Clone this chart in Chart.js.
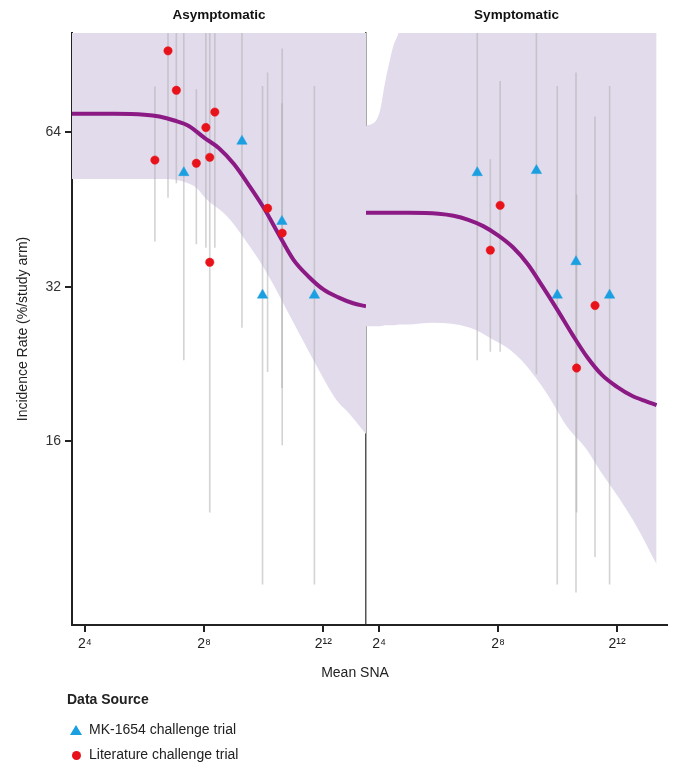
<!DOCTYPE html>
<html>
<head>
<meta charset="utf-8">
<script src="https://cdn.jsdelivr.net/npm/chart.js@4.4.1/dist/chart.umd.min.js"></script>
<style>
  body { margin: 0; background: #fff; font-family: 'Liberation Sans', Arial, sans-serif; color: #222; }
  #wrap { position: relative; width: 674px; height: 767px; }
  #chart { position: absolute; left: 0; top: 0; }
  .legend-title { position: absolute; left: 67px; top: 691px; font-size: 14px; font-weight: bold; line-height: 17px; }
  .legend-item { position: absolute; left: 89px; font-size: 14px; line-height: 17px; }
  .tri { position: absolute; width: 0; height: 0; border-left: 6px solid transparent; border-right: 6px solid transparent; border-bottom: 10px solid #1a9fe0; }
  .dot { position: absolute; width: 9px; height: 9px; border-radius: 50%; background: #e8121a; }
</style>
</head>
<body>
<div id="wrap">
  <canvas id="chart" width="674" height="767"></canvas>
  <div class="legend-title">Data Source</div>
  <div class="tri" style="left:70px; top:725px;"></div>
  <div class="legend-item" style="top:721px;">MK-1654 challenge trial</div>
  <div class="dot" style="left:71.5px; top:750.5px;"></div>
  <div class="legend-item" style="top:746px;">Literature challenge trial</div>
</div>
<script>
// x values are log2(mean SNA), y values are incidence rate (%/study arm)
const xTicks = [4, 8, 12];
const xTickLabels = ['2⁴', '2⁸', '2¹²'];
const yTicks = [16, 32, 64];

// Asymptomatic panel
const mkAsymX = [9.27, 7.32, 10.61, 9.96, 11.70];
const mkAsymY = [61.5, 53.4, 42.9, 30.8, 30.8];
const mkAsymLo = [26.6, 23.0, 20.3, 8.4, 8.4];
const mkAsymHi = [120, 120, 72.9, 78.8, 78.8];

const litAsymX = [6.79, 7.07, 8.36, 8.06, 6.35, 7.74, 8.19, 10.13, 10.62, 8.19];
const litAsymY = [92.3, 77.3, 70.1, 65.4, 56.5, 55.7, 57.2, 45.5, 40.7, 35.7];
const litAsymLo = [47.7, 50.9, 38.1, 38.1, 39.2, 38.7, 38.1, 21.8, 15.7, 11.6];
const litAsymHi = [120, 120, 120, 120, 78.6, 77.7, 83.8, 83.7, 93.3, 120];

const curveAsymX = [3.57, 5.0, 6.0, 6.5, 7.0, 7.5, 8.0, 8.5, 9.0, 9.5, 10.0, 10.5, 11.0, 11.5, 12.0, 12.5, 13.0, 13.43];
const curveAsymY = [69.6, 69.6, 69.3, 68.7, 67.5, 65.8, 62.5, 59.6, 55.5, 50.5, 45.6, 40.5, 36.1, 33.5, 31.6, 30.5, 29.7, 29.3];

const bandAsymX = [3.57, 6.43, 7.66, 8.10, 8.77, 9.44, 10.11, 11.0, 11.67, 12.45, 12.79, 13.43];
const bandAsymLo = [51.9, 51.9, 50.3, 47.3, 43.9, 39.0, 34.0, 27.2, 23.0, 19.2, 18.3, 16.5];
const bandAsymHi = [120, 120, 120, 120, 120, 120, 120, 120, 120, 120, 120, 120];

// Symptomatic panel
const mkSympX = [7.30, 9.29, 10.62, 9.99, 11.75];
const mkSympY = [53.4, 53.9, 35.8, 30.8, 30.8];
const mkSympLo = [23.0, 21.6, 8.1, 8.4, 8.4];
const mkSympHi = [120, 120, 83.7, 78.8, 78.8];

const litSympX = [8.07, 7.74, 11.26, 10.64];
const litSympY = [46.1, 37.7, 29.4, 22.2];
const litSympLo = [23.9, 23.9, 9.5, 11.6];
const litSympHi = [80.6, 56.7, 68.7, 48.4];

const curveSympX = [3.56, 5.0, 6.0, 6.5, 7.0, 7.5, 8.0, 8.5, 9.0, 9.5, 10.0, 10.5, 11.0, 11.5, 12.0, 12.5, 13.0, 13.33];
const curveSympY = [44.6, 44.6, 44.4, 44.0, 43.2, 42.0, 40.3, 38.2, 35.4, 32.0, 28.8, 25.8, 23.3, 21.5, 20.4, 19.6, 19.1, 18.8];

const bandSympX = [3.56, 3.92, 4.03, 4.20, 4.37, 4.48, 4.65, 4.93, 5.83, 7.06, 7.84, 8.40, 8.96, 9.64, 10.31, 10.98, 11.43, 12.10, 12.66, 13.33];
const bandSympLo = [26.8, 26.8, 26.8, 26.9, 26.9, 26.9, 27.0, 27.0, 27.2, 26.6, 25.2, 24.1, 22.4, 19.8, 17.1, 15.4, 14.0, 12.3, 10.9, 9.2];
const bandSympHi = [65.8, 67.8, 70.5, 80.1, 88.9, 94.4, 100, 120, 120, 120, 120, 120, 120, 120, 120, 120, 120, 120, 120, 120];

const blue = '#1a9fe0';
const red = '#e8121a';
const purple = 'rgb(140,26,133)';
const bandColor = 'rgb(226,219,236)';
const barColor = 'rgba(175,175,175,0.55)';

function toPoints(xs, ys) {
    return xs.map((x, i) => ({ x: x, y: ys[i] }));
}

// one line dataset per series, gaps (null) split the vertical bars
function errorBarPoints(xs, lo, hi) {
    const pts = [];
    xs.forEach((x, i) => {
        pts.push({ x: x, y: lo[i] }, { x: x, y: hi[i] }, { x: x, y: null });
    });
    return pts;
}

function bandDatasets(xs, lo, hi, axis) {
    return [
        { data: toPoints(xs, hi), xAxisID: axis, showLine: true, fill: '+1', backgroundColor: bandColor,
          borderWidth: 0, pointRadius: 0, cubicInterpolationMode: 'monotone', order: 5 },
        { data: toPoints(xs, lo), xAxisID: axis, showLine: true, fill: false,
          borderWidth: 0, pointRadius: 0, cubicInterpolationMode: 'monotone', order: 6 }
    ];
}

function barDataset(xs, lo, hi, axis) {
    return { data: errorBarPoints(xs, lo, hi), xAxisID: axis, showLine: true, spanGaps: false,
             borderColor: barColor, borderWidth: 1.6, pointRadius: 0, order: 4 };
}

function curveDataset(xs, ys, axis) {
    return { data: toPoints(xs, ys), xAxisID: axis, showLine: true, borderColor: purple, borderWidth: 4,
             pointRadius: 0, cubicInterpolationMode: 'monotone', order: 2 };
}

function pointDataset(label, xs, ys, axis, color, style, radius) {
    return { label: label, data: toPoints(xs, ys), xAxisID: axis, pointStyle: style, pointRadius: radius,
             backgroundColor: color, borderColor: color, borderWidth: 0.5, order: 0 };
}

const datasets = [].concat(
    bandDatasets(bandAsymX, bandAsymLo, bandAsymHi, 'xL'),
    bandDatasets(bandSympX, bandSympLo, bandSympHi, 'xR'),
    [
        barDataset(mkAsymX, mkAsymLo, mkAsymHi, 'xL'),
        barDataset(litAsymX, litAsymLo, litAsymHi, 'xL'),
        barDataset(mkSympX, mkSympLo, mkSympHi, 'xR'),
        barDataset(litSympX, litSympLo, litSympHi, 'xR'),
        curveDataset(curveAsymX, curveAsymY, 'xL'),
        curveDataset(curveSympX, curveSympY, 'xR'),
        pointDataset('MK-1654 challenge trial', mkAsymX, mkAsymY, 'xL', blue, 'triangle', 6),
        pointDataset('Literature challenge trial', litAsymX, litAsymY, 'xL', red, 'circle', 4.2),
        pointDataset('MK-1654 challenge trial', mkSympX, mkSympY, 'xR', blue, 'triangle', 6),
        pointDataset('Literature challenge trial', litSympX, litSympY, 'xR', red, 'circle', 4.2)
    ]
);

Chart.defaults.font.family = "'Liberation Sans', Arial, sans-serif";
Chart.defaults.font.size = 14;
Chart.defaults.color = '#222';

const tickGrid = { display: true, drawOnChartArea: false, drawTicks: true, tickLength: 7, lineWidth: 2, color: '#222' };
const axisBorder = { display: true, color: '#222', width: 2 };

function bottomAxis(min, max, weight) {
    return {
        type: 'linear', position: 'bottom', stack: 'bottom', stackWeight: weight, min: min, max: max,
        afterBuildTicks: scale => { scale.ticks = xTicks.map(v => ({ value: v })); },
        afterFit: scale => { scale.height = 30; },
        ticks: { callback: (v, i) => xTickLabels[i], maxRotation: 0, padding: 4, color: '#222' },
        grid: tickGrid,
        border: axisBorder
    };
}

function panelTitleAxis(text, weight) {
    return {
        type: 'linear', position: 'top', stack: 'top', stackWeight: weight,
        afterFit: scale => { scale.height = 33; },
        ticks: { display: false },
        grid: { display: false },
        border: { display: false },
        title: { display: true, text: text, color: '#111', font: { size: 13.5, weight: 'bold' }, padding: { top: 6.9, bottom: 0 } }
    };
}

new Chart(document.getElementById('chart'), {
    type: 'scatter',
    data: { datasets: datasets },
    options: {
        responsive: false,
        animation: false,
        devicePixelRatio: 1,
        layout: { padding: { left: 43, right: 7, top: 0, bottom: 85.6 } },
        plugins: {
            legend: { display: false },
            tooltip: { enabled: false },
            title: {
                display: true, text: 'Mean SNA', position: 'bottom', align: 'center', fullSize: true,
                color: '#222', font: { size: 14, weight: 'normal' }, padding: { top: 9.6, bottom: 0 }
            }
        },
        scales: {
            y: {
                type: 'logarithmic', position: 'left', min: 7, max: 100,
                afterBuildTicks: scale => { scale.ticks = yTicks.map(v => ({ value: v })); },
                afterFit: scale => { scale.width = 29; },
                ticks: { callback: v => String(v), padding: 4, color: '#333' },
                grid: tickGrid,
                border: axisBorder,
                title: { display: true, text: 'Incidence Rate (%/study arm)', color: '#222', padding: { top: -28.4, bottom: 0 } }
            },
            yR: {
                type: 'linear', position: { xR: 3.56 },
                ticks: { display: false },
                grid: { display: true, drawOnChartArea: false, drawTicks: false },
                border: { display: true, color: '#555', width: 1.5 }
            },
            xL: bottomAxis(3.57, 13.43, 294),
            xR: bottomAxis(3.56, 13.68, 301),
            // top boxes are laid out in reverse order, so the right panel title comes first
            xTR: panelTitleAxis('Symptomatic', 301),
            xTL: panelTitleAxis('Asymptomatic', 294)
        }
    }
});
</script>
</body>
</html>
